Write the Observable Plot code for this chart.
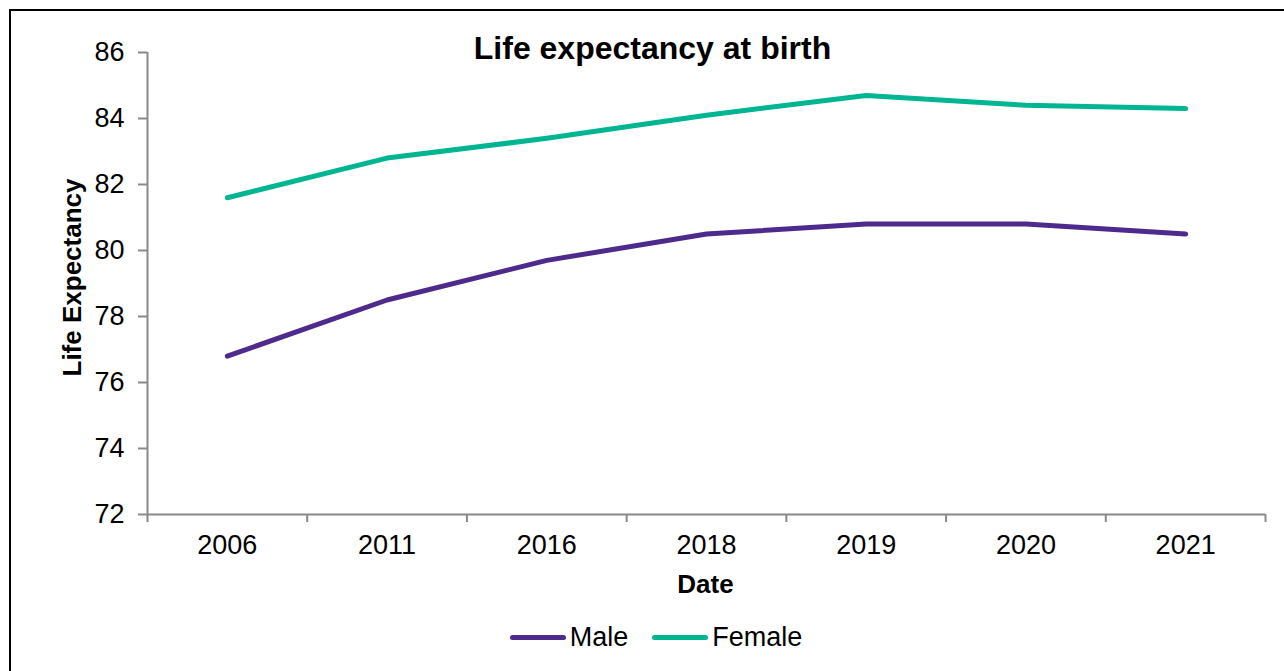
<!DOCTYPE html>
<html>
<head>
<meta charset="utf-8">
<script src="https://cdn.jsdelivr.net/npm/d3@7"></script>
<script src="https://cdn.jsdelivr.net/npm/@observablehq/plot@0.6"></script>
<style>
  html, body { margin: 0; padding: 0; background: #fff; }
  body { width: 1284px; height: 671px; overflow: hidden; position: relative; font-family: "Liberation Sans", Arial, sans-serif; }
  #frame { position: absolute; left: 9px; top: 9px; width: 1300px; height: 700px; border-left: 2px solid #000; border-top: 2px solid #000; }
  #chart { position: absolute; left: 0; top: 0; }
  #legend { position: absolute; top: 622px; left: 0; width: 1312px; display: flex; justify-content: center; align-items: center; font-size: 27px; color: #000; }
  .item { display: flex; align-items: center; }
  .sw { width: 56px; height: 5px; border-radius: 3px; margin-right: 4px; }
</style>
</head>
<body>
<div id="frame"></div>
<div id="chart"></div>
<div id="legend"></div>
<script>
const categories = ["2006", "2011", "2016", "2018", "2019", "2020", "2021"];
const male = [76.8, 78.5, 79.7, 80.5, 80.8, 80.8, 80.5];
const female = [81.6, 82.8, 83.4, 84.1, 84.7, 84.4, 84.3];
const yTicks = [72, 74, 76, 78, 80, 82, 84, 86];
const seriesNames = ["Male", "Female"];
const seriesColors = ["#4E2A8C", "#00B591"];

const rows = [];
categories.forEach((c, i) => {
  rows.push({series: "Male", i, v: male[i]});
  rows.push({series: "Female", i, v: female[i]});
});
const bounds = d3.range(categories.length + 1).map(k => k - 0.5);
const centers = d3.range(categories.length);
const axisColor = "#898989";

const chart = Plot.plot({
  width: 1284,
  height: 671,
  marginTop: 52,
  marginBottom: 157,
  marginLeft: 147,
  marginRight: 19,
  style: {fontFamily: "'Liberation Sans', Arial, sans-serif", background: "transparent", overflow: "visible"},
  x: {domain: [-0.5, categories.length - 0.5]},
  y: {domain: [72, 86]},
  color: {domain: seriesNames, range: seriesColors},
  marks: [
    Plot.ruleY([72], {stroke: axisColor, strokeWidth: 2, x1: -0.5, x2: categories.length - 0.5}),
    Plot.ruleX([-0.5], {stroke: axisColor, strokeWidth: 2, y1: 72, y2: 86}),
    Plot.axisY({ticks: yTicks, tickSize: 9, tickPadding: 14, stroke: axisColor, strokeWidth: 2, fontSize: 27, fill: "#000", label: null, tickFormat: d => d}),
    Plot.axisX({ticks: bounds, tickSize: 8, stroke: axisColor, strokeWidth: 2, tickFormat: () => "", label: null}),
    Plot.axisX({ticks: centers, tickSize: 0, tickPadding: 20, fontSize: 27, fill: "#000", tickFormat: i => categories[i], label: null}),
    Plot.line(rows, {x: "i", y: "v", z: "series", stroke: "series", strokeWidth: 5, strokeLinecap: "round", strokeLinejoin: "round", curve: "linear"}),
    Plot.text(["Life expectancy at birth"], {frameAnchor: "top", dx: -54, dy: 6, lineAnchor: "bottom", fontSize: 32, fontWeight: "bold", fill: "#000"}),
    Plot.text(["Life Expectancy"], {frameAnchor: "left", dx: -75, dy: -6, rotate: -90, textAnchor: "middle", lineAnchor: "middle", fontSize: 26, fontWeight: "bold", fill: "#000"}),
    Plot.text(["Date"], {frameAnchor: "bottom", dx: -1, dy: 78, lineAnchor: "bottom", fontSize: 26, fontWeight: "bold", fill: "#000"})
  ]
});
document.getElementById("chart").appendChild(chart);

const legend = document.getElementById("legend");
seriesNames.forEach((name, k) => {
  const item = document.createElement("div");
  item.className = "item";
  if (k > 0) item.style.marginLeft = "24px";
  const sw = document.createElement("div");
  sw.className = "sw";
  sw.style.background = seriesColors[k];
  const label = document.createElement("span");
  label.textContent = name;
  item.appendChild(sw);
  item.appendChild(label);
  legend.appendChild(item);
});
</script>
</body>
</html>
